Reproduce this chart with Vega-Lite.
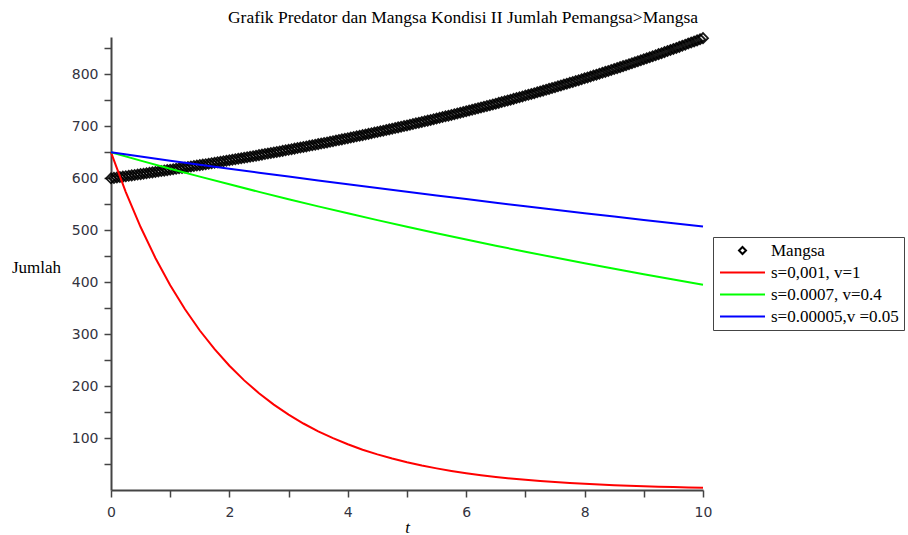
{
  "$schema": "https://vega.github.io/schema/vega-lite/v6.json",
  "width": 592,
  "height": 453,
  "autosize": {"type": "none"},
  "padding": {"left": 111, "top": 37, "right": 205, "bottom": 45},
  "background": "white",
  "title": {
    "text": "Grafik Predator dan Mangsa Kondisi II Jumlah Pemangsa>Mangsa",
    "font": "Liberation Serif",
    "fontSize": 17.5,
    "fontWeight": "normal",
    "color": "black",
    "anchor": "middle",
    "dx": 56,
    "offset": 3
  },
  "config": {"view": {"stroke": null}},
  "datasets": {
    "prey": [
      {"t":0,"v":600.0},{"t":0.1,"v":601.6},{"t":0.2,"v":603.2},{"t":0.3,"v":604.8},{"t":0.4,"v":606.4},{"t":0.5,"v":608.0},{"t":0.6,"v":609.7},{"t":0.7,"v":611.4},{"t":0.8,"v":613.1},{"t":0.9,"v":614.8},
      {"t":1.0,"v":616.5},{"t":1.1,"v":618.3},{"t":1.2,"v":620.0},{"t":1.3,"v":621.8},{"t":1.4,"v":623.6},{"t":1.5,"v":625.4},{"t":1.6,"v":627.2},{"t":1.7,"v":629.1},{"t":1.8,"v":631.0},{"t":1.9,"v":632.9},
      {"t":2.0,"v":634.8},{"t":2.1,"v":636.7},{"t":2.2,"v":638.6},{"t":2.3,"v":640.6},{"t":2.4,"v":642.6},{"t":2.5,"v":644.6},{"t":2.6,"v":646.6},{"t":2.7,"v":648.7},{"t":2.8,"v":650.7},{"t":2.9,"v":652.8},
      {"t":3.0,"v":654.9},{"t":3.1,"v":657.1},{"t":3.2,"v":659.2},{"t":3.3,"v":661.4},{"t":3.4,"v":663.6},{"t":3.5,"v":665.8},{"t":3.6,"v":668.0},{"t":3.7,"v":670.3},{"t":3.8,"v":672.6},{"t":3.9,"v":674.9},
      {"t":4.0,"v":677.2},{"t":4.1,"v":679.6},{"t":4.2,"v":681.9},{"t":4.3,"v":684.3},{"t":4.4,"v":686.8},{"t":4.5,"v":689.2},{"t":4.6,"v":691.7},{"t":4.7,"v":694.2},{"t":4.8,"v":696.7},{"t":4.9,"v":699.3},
      {"t":5.0,"v":701.8},{"t":5.1,"v":704.5},{"t":5.2,"v":707.1},{"t":5.3,"v":709.7},{"t":5.4,"v":712.4},{"t":5.5,"v":715.1},{"t":5.6,"v":717.9},{"t":5.7,"v":720.6},{"t":5.8,"v":723.4},{"t":5.9,"v":726.2},
      {"t":6.0,"v":729.1},{"t":6.1,"v":731.9},{"t":6.2,"v":734.9},{"t":6.3,"v":737.8},{"t":6.4,"v":740.7},{"t":6.5,"v":743.7},{"t":6.6,"v":746.8},{"t":6.7,"v":749.8},{"t":6.8,"v":752.9},{"t":6.9,"v":756.0},
      {"t":7.0,"v":759.2},{"t":7.1,"v":762.3},{"t":7.2,"v":765.5},{"t":7.3,"v":768.8},{"t":7.4,"v":772.1},{"t":7.5,"v":775.4},{"t":7.6,"v":778.7},{"t":7.7,"v":782.1},{"t":7.8,"v":785.5},{"t":7.9,"v":788.9},
      {"t":8.0,"v":792.4},{"t":8.1,"v":795.9},{"t":8.2,"v":799.5},{"t":8.3,"v":803.1},{"t":8.4,"v":806.7},{"t":8.5,"v":810.3},{"t":8.6,"v":814.0},{"t":8.7,"v":817.7},{"t":8.8,"v":821.5},{"t":8.9,"v":825.3},
      {"t":9.0,"v":829.2},{"t":9.1,"v":833.0},{"t":9.2,"v":837.0},{"t":9.3,"v":840.9},{"t":9.4,"v":844.9},{"t":9.5,"v":849.0},{"t":9.6,"v":853.0},{"t":9.7,"v":857.2},{"t":9.8,"v":861.3},{"t":9.9,"v":865.5},
      {"t":10.0,"v":869.8},
      {"t":0.05,"v":600.8},{"t":0.15,"v":602.4},{"t":0.25,"v":604.0},{"t":0.35,"v":605.6},{"t":0.45,"v":607.2},{"t":0.55,"v":608.8},{"t":0.65,"v":610.5},{"t":0.75,"v":612.2},{"t":0.85,"v":614.0},{"t":0.95,"v":615.7},
      {"t":1.05,"v":617.4},{"t":1.15,"v":619.2},{"t":1.25,"v":620.9},{"t":1.35,"v":622.7},{"t":1.45,"v":624.5},{"t":1.55,"v":626.3},{"t":1.65,"v":628.1},{"t":1.75,"v":630.0},{"t":1.85,"v":631.9},{"t":1.95,"v":633.9},
      {"t":2.05,"v":635.8},{"t":2.15,"v":637.7},{"t":2.25,"v":639.6},{"t":2.35,"v":641.6},{"t":2.45,"v":643.6},{"t":2.55,"v":645.6},{"t":2.65,"v":647.6},{"t":2.75,"v":649.7},{"t":2.85,"v":651.7},{"t":2.95,"v":653.9},
      {"t":3.05,"v":656.0},{"t":3.15,"v":658.2},{"t":3.25,"v":660.3},{"t":3.35,"v":662.5},{"t":3.45,"v":664.7},{"t":3.55,"v":666.9},{"t":3.65,"v":669.1},{"t":3.75,"v":671.4},{"t":3.85,"v":673.8},{"t":3.95,"v":676.1},
      {"t":4.05,"v":678.4},{"t":4.15,"v":680.8},{"t":4.25,"v":683.1},{"t":4.35,"v":685.5},{"t":4.45,"v":688.0},{"t":4.55,"v":690.4},{"t":4.65,"v":693.0},{"t":4.75,"v":695.5},{"t":4.85,"v":698.0},{"t":4.95,"v":700.6},
      {"t":5.05,"v":703.1},{"t":5.15,"v":705.8},{"t":5.25,"v":708.4},{"t":5.35,"v":711.0},{"t":5.45,"v":713.8},{"t":5.55,"v":716.5},{"t":5.65,"v":719.3},{"t":5.75,"v":722.0},{"t":5.85,"v":724.8},{"t":5.95,"v":727.6},
      {"t":6.05,"v":730.5},{"t":6.15,"v":733.4},{"t":6.25,"v":736.4},{"t":6.35,"v":739.3},{"t":6.45,"v":742.2},{"t":6.55,"v":745.2},{"t":6.65,"v":748.3},{"t":6.75,"v":751.3},{"t":6.85,"v":754.5},{"t":6.95,"v":757.6},
      {"t":7.05,"v":760.8},{"t":7.15,"v":763.9},{"t":7.25,"v":767.1},{"t":7.35,"v":770.4},{"t":7.45,"v":773.8},{"t":7.55,"v":777.1},{"t":7.65,"v":780.4},{"t":7.75,"v":783.8},{"t":7.85,"v":787.2},{"t":7.95,"v":790.6},
      {"t":8.05,"v":794.2},{"t":8.15,"v":797.7},{"t":8.25,"v":801.3},{"t":8.35,"v":804.9},{"t":8.45,"v":808.5},{"t":8.55,"v":812.1},{"t":8.65,"v":815.9},{"t":8.75,"v":819.6},{"t":8.85,"v":823.4},{"t":8.95,"v":827.2},
      {"t":9.05,"v":831.1},{"t":9.15,"v":835.0},{"t":9.25,"v":839.0},{"t":9.35,"v":842.9},{"t":9.45,"v":846.9},{"t":9.55,"v":851.0},{"t":9.65,"v":855.1},{"t":9.75,"v":859.3},{"t":9.85,"v":863.4},{"t":9.95,"v":867.6}
    ],
    "pred": [
      {"t":0,"s":"A","v":650.0},{"t":0.25,"s":"A","v":573.6},{"t":0.5,"s":"A","v":506.2},{"t":0.75,"s":"A","v":446.7},{"t":1.0,"s":"A","v":394.2},{"t":1.25,"s":"A","v":347.9},{"t":1.5,"s":"A","v":307.0},{"t":1.75,"s":"A","v":271.0},
      {"t":2.0,"s":"A","v":239.1},{"t":2.25,"s":"A","v":211.0},{"t":2.5,"s":"A","v":186.2},{"t":2.75,"s":"A","v":164.3},{"t":3.0,"s":"A","v":145.0},{"t":3.25,"s":"A","v":128.0},{"t":3.5,"s":"A","v":113.0},{"t":3.75,"s":"A","v":99.7},
      {"t":4.0,"s":"A","v":88.0},{"t":4.25,"s":"A","v":77.6},{"t":4.5,"s":"A","v":68.5},{"t":4.75,"s":"A","v":60.5},{"t":5.0,"s":"A","v":53.4},{"t":5.25,"s":"A","v":47.1},{"t":5.5,"s":"A","v":41.6},{"t":5.75,"s":"A","v":36.7},
      {"t":6.0,"s":"A","v":32.4},{"t":6.25,"s":"A","v":28.6},{"t":6.5,"s":"A","v":25.2},{"t":6.75,"s":"A","v":22.2},{"t":7.0,"s":"A","v":19.6},{"t":7.25,"s":"A","v":17.3},{"t":7.5,"s":"A","v":15.3},{"t":7.75,"s":"A","v":13.5},
      {"t":8.0,"s":"A","v":11.9},{"t":8.25,"s":"A","v":10.5},{"t":8.5,"s":"A","v":9.3},{"t":8.75,"s":"A","v":8.2},{"t":9.0,"s":"A","v":7.2},{"t":9.25,"s":"A","v":6.4},{"t":9.5,"s":"A","v":5.6},{"t":9.75,"s":"A","v":5.0},{"t":10.0,"s":"A","v":4.4},
      {"t":0,"s":"B","v":650.0},{"t":0.5,"s":"B","v":634.0},{"t":1.0,"s":"B","v":618.4},{"t":1.5,"s":"B","v":603.2},{"t":2.0,"s":"B","v":588.4},{"t":2.5,"s":"B","v":573.9},{"t":3.0,"s":"B","v":559.8},
      {"t":3.5,"s":"B","v":546.0},{"t":4.0,"s":"B","v":532.6},{"t":4.5,"s":"B","v":519.5},{"t":5.0,"s":"B","v":506.7},{"t":5.5,"s":"B","v":494.3},{"t":6.0,"s":"B","v":482.1},{"t":6.5,"s":"B","v":470.3},
      {"t":7.0,"s":"B","v":458.7},{"t":7.5,"s":"B","v":447.4},{"t":8.0,"s":"B","v":436.4},{"t":8.5,"s":"B","v":425.7},{"t":9.0,"s":"B","v":415.2},{"t":9.5,"s":"B","v":405.0},{"t":10.0,"s":"B","v":395.0},
      {"t":0,"s":"C","v":650.0},{"t":0.5,"s":"C","v":642.0},{"t":1.0,"s":"C","v":634.0},{"t":1.5,"s":"C","v":626.2},{"t":2.0,"s":"C","v":618.5},{"t":2.5,"s":"C","v":610.9},{"t":3.0,"s":"C","v":603.3},
      {"t":3.5,"s":"C","v":595.9},{"t":4.0,"s":"C","v":588.5},{"t":4.5,"s":"C","v":581.2},{"t":5.0,"s":"C","v":574.1},{"t":5.5,"s":"C","v":567.0},{"t":6.0,"s":"C","v":560.0},{"t":6.5,"s":"C","v":553.1},
      {"t":7.0,"s":"C","v":546.2},{"t":7.5,"s":"C","v":539.5},{"t":8.0,"s":"C","v":532.8},{"t":8.5,"s":"C","v":526.3},{"t":9.0,"s":"C","v":519.8},{"t":9.5,"s":"C","v":513.3},{"t":10.0,"s":"C","v":507.0}
    ]
  },
  "layer": [
    {
      "data": {"name": "prey"},
      "mark": {"type": "point", "shape": "diamond", "filled": false, "size": 100, "strokeWidth": 1.8, "opacity": 0.9, "clip": false},
      "encoding": {
        "x": {"field": "t", "type": "quantitative", "scale": {"domain": [0, 10], "nice": false}},
        "y": {"field": "v", "type": "quantitative", "scale": {"domain": [0, 872], "nice": false, "zero": false}},
        "color": {"datum": "Mangsa", "type": "nominal", "scale": {"domain": ["Mangsa", "A", "B", "C"], "range": ["#000000", "#ff0000", "#00ff00", "#0000ff"]}}
      }
    },
    {
      "data": {"name": "pred"},
      "mark": {"type": "line", "strokeWidth": 2, "interpolate": "linear"},
      "encoding": {
        "x": {
          "field": "t", "type": "quantitative",
          "scale": {"domain": [0, 10], "nice": false},
          "axis": {
            "values": [0,1,2,3,4,5,6,7,8,9,10],
            "tickCount": 20,
            "format": "d",
            "labelExpr": "datum.value % 2 === 0 ? datum.label : ''",
            "labelFont": "DejaVu Sans", "labelFontSize": 14, "labelColor": "#333340",
            "labelPadding": 8, "labelFlush": false, "labelOverlap": false,
            "tickSize": 7, "tickColor": "#444444", "tickWidth": 1.5,
            "domainColor": "#444444", "domainWidth": 2, "grid": false,
            "title": "t", "titleFont": "Liberation Serif", "titleFontSize": 17, "titleFontStyle": "italic", "titleFontWeight": "normal", "titleColor": "black",
            "titleBaseline": "alphabetic", "titleY": 42,
            "encode": {"ticks": {"update": {"y2": {"signal": "datum.value % 2 === 0 ? 7 : 5"}}}}
          }
        },
        "y": {
          "field": "v", "type": "quantitative",
          "scale": {"domain": [0, 872], "nice": false, "zero": false},
          "axis": {
            "values": [50,100,150,200,250,300,350,400,450,500,550,600,650,700,750,800,850],
            "tickCount": 30,
            "format": "d",
            "labelExpr": "datum.value % 100 === 0 ? datum.label : ''",
            "labelFont": "DejaVu Sans", "labelFontSize": 14, "labelColor": "#333340",
            "labelPadding": 6, "labelOverlap": false, "labelFlush": false,
            "tickSize": 7, "tickColor": "#444444", "tickWidth": 1.5,
            "domainColor": "#444444", "domainWidth": 2, "grid": false,
            "title": "Jumlah", "titleFont": "Liberation Serif", "titleFontSize": 17, "titleFontWeight": "normal", "titleColor": "black",
            "titleAngle": 0, "titleAlign": "center", "titleBaseline": "middle", "titleX": -75, "titleY": 230,
            "encode": {"ticks": {"update": {"x2": {"signal": "datum.value % 100 === 0 ? -7 : -4"}}}}
          }
        },
        "color": {
          "field": "s", "type": "nominal",
          "scale": {"domain": ["Mangsa", "A", "B", "C"], "range": ["#000000", "#ff0000", "#00ff00", "#0000ff"]},
          "legend": {
            "orient": "none", "legendX": 602, "legendY": 200,
            "title": null,
            "labelExpr": "datum.label === 'A' ? 's=0,001, v=1' : datum.label === 'B' ? 's=0.0007, v=0.4' : datum.label === 'C' ? 's=0.00005,v =0.05' : datum.label",
            "labelFont": "Liberation Serif", "labelFontSize": 17, "labelColor": "black", "labelLimit": 300,
            "symbolSize": 100, "symbolStrokeWidth": 2, "symbolOffset": 16, "labelOffset": 20,
            "rowPadding": 4, "padding": 5,
            "strokeColor": "#444444", "fillColor": "white",
            "encode": {"symbols": {"update": {
              "shape": {"signal": "datum.value === 'Mangsa' ? 'M0,-0.7L0.7,0L0,0.7L-0.7,0Z' : 'M-4.5,0L4.5,0'"},
              "fill": {"value": "transparent"}
            }}}
          }
        }
      }
    }
  ]
}
